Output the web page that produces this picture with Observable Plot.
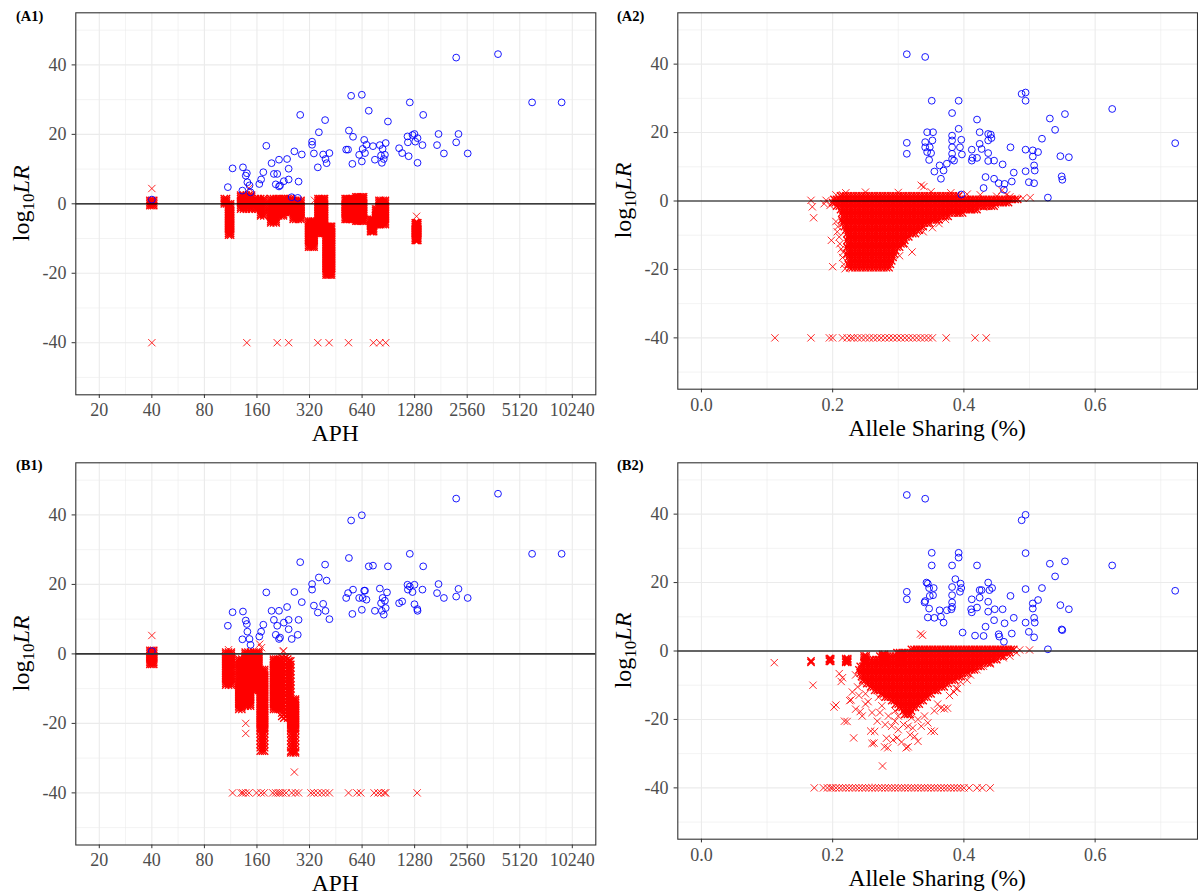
<!DOCTYPE html>
<html><head><meta charset="utf-8">
<script src="https://cdn.jsdelivr.net/npm/d3@7"></script>
<script src="https://cdn.jsdelivr.net/npm/@observablehq/plot@0.6"></script>
<style>
html,body{margin:0;padding:0;background:#fff;}
#wrap{position:relative;width:1198px;height:896px;overflow:hidden;background:#fff;}
</style></head>
<body><div id="wrap"></div>
<script>
// ---------- axes ----------
const aphTicks = [20, 40, 80, 160, 320, 640, 1280, 2560, 5120, 10240];
const aphMinor = [28.28, 56.57, 113.1, 226.3, 452.5, 905.1, 1810, 3620, 7241];
const shareTicks = [0, 0.2, 0.4, 0.6];
const shareMinor = [0.1, 0.3, 0.5, 0.7];
const lrTicks = [-40, -20, 0, 20, 40];
const lrMinor = [-50, -30, -10, 10, 30, 50];
const floorLR = -40;
const panelTags = ["(A1)", "(A2)", "(B1)", "(B2)"];
const xTitles = ["APH", "Allele Sharing (%)"];

// ---------- A1 : APH vs log10 LR ----------
const a1Blue = [[109,4.8],[116,10.2],[133,10.5],[132,3.8],[138,8.1],[140,8.8],[141,6.2],[145,5.3],[147,3.3],[165,5.7],[169,7.0],[174,9.1],[181,16.7],[194,11.7],[200,8.6],[209,8.6],[205,5.6],[214,5.0],[217,5.3],[214,12.7],[228,6.5],[238,12.9],[243,10.1],[243,7.0],[253,1.9],[262,15.1],[274,1.7],[277,6.4],[283,25.6],[289,14.2],[331,17.9],[331,17.0],[339,14.5],[357,10.5],[362,20.6],[393,24.1],[383,14.2],[395,12.9],[401,11.7],[416,14.6],[519,15.6],[532,15.6],[538,21.1],[554,31.1],[563,11.5],[568,19.3],[616,14.1],[638,31.4],[638,12.2],[645,15.8],[658,18.4],[665,14.6],[678,17.0],[699,26.8],[739,16.6],[758,12.7],[809,16.9],[822,13.9],[831,11.8],[839,15.8],[852,12.9],[865,14.1],[874,17.5],[900,23.7],[1043,16.0],[1086,14.6],[1165,19.4],[1171,17.7],[1201,29.2],[1183,13.7],[1245,19.8],[1277,20.1],[1290,17.9],[1330,18.9],[1330,11.8],[1419,16.9],[1433,25.6],[1720,16.9],[1754,20.1],[1883,14.5],[2214,42.1],[2214,17.7],[2282,20.1],[2577,14.5],[3843,43.1],[6025,29.2],[8895,29.2],[40,1.2]];
const a1ColAph = [[39,40,41],[104,107],[110,113],[129,134,139,144,149],[157,163],[168,175],[192,199,206],[213,220,227],[233,241,249],[258,267,276,286],[316,324,332,340],[358,366,374,382,390],[398,405,412,420,428],[512,522,532,543,554,565],[590,602,614,627,640,653],[716,730,745],[765,780,800,820,845,870],[800,820,845,870],[1290,1305,1320,1335]];
const a1ColLR = [
 [1,0.5,0,-0.5],
 [1.5,1,0.5,0],
 [0,-0.5,-1,-1.5,-2,-2.5,-3,-3.5,-4,-4.5,-5,-5.5,-6,-6.5,-7,-7.5,-8,-8.5,-9],
 [2.5,2,1.5,1,0.5,0,-0.5,-1,-1.5],
 [1.5,1,0.5,0,-0.5,-1,-1.5],
 [1.5,1,0.5,0,-0.5,-1,-1.5,-2,-2.5,-3,-3.5],
 [1.5,1,0.5,0,-0.5,-1,-1.5,-2,-2.5,-3,-3.5,-4,-4.5,-5,-5.5],
 [1.5,1,0.5,0,-0.5,-1,-1.5,-2,-2.5,-3,-3.5],
 [1.5,1,0.5,0,-0.5,-1,-1.5,-2,-2.5],
 [1,0.5,0,-0.5,-1,-1.5,-2,-2.5,-3,-3.5,-4,-4.5],
 [-5,-5.5,-6,-6.5,-7,-7.5,-8,-8.5,-9,-9.5,-10,-10.5,-11,-11.5,-12,-12.5],
 [1.5,1,0.5,0,-0.5,-1,-1.5,-2,-2.5,-3,-3.5,-4,-4.5,-5,-5.5,-6,-6.5,-7,-7.5,-8,-8.5],
 [-6.5,-7,-7.5,-8,-8.5,-9,-9.5,-10,-10.5,-11,-11.5,-12,-12.5,-13,-13.5,-14,-14.5,-15,-15.5,-16,-16.5,-17,-17.5,-18,-18.5,-19,-19.5,-20,-20.5],
 [1.5,1,0.5,0,-0.5,-1,-1.5,-2,-2.5,-3,-3.5,-4,-4.5],
 [2,1.5,1,0.5,0,-0.5,-1,-1.5,-2,-2.5,-3,-3.5,-4,-4.5,-5],
 [-4.5,-5,-5.5,-6,-6.5,-7,-7.5,-8],
 [-1.5,-2,-2.5,-3,-3.5,-4,-4.5,-5,-5.5,-6],
 [1,0.5,0,-0.5,-1],
 [-5.5,-6,-6.5,-7,-7.5,-8,-8.5,-9,-9.5,-10,-10.5]
];
const a1RedDots = [[40,4.4],[1313,-3.6],[144,4.5],[342,1.0]];
const a1FloorAph = [40,140,209,243,357,414,535,743,809,874];

// ---------- B1 : APH vs log10 LR ----------
const b1Blue = [[109,8.1],[116,12.0],[133,12.2],[132,4.2],[138,9.6],[140,8.6],[141,6.4],[145,4.3],[147,2.6],[165,5.0],[169,6.4],[174,8.4],[181,17.7],[194,12.4],[200,9.8],[209,8.1],[205,5.5],[214,4.3],[217,4.7],[214,12.4],[228,9.0],[238,13.5],[243,9.8],[243,7.1],[253,4.3],[262,17.8],[274,5.5],[277,9.8],[283,26.4],[289,14.9],[331,20.1],[331,18.5],[339,13.9],[357,11.9],[362,22.0],[393,25.7],[383,14.4],[395,12.4],[401,21.1],[416,10.0],[519,16.1],[532,17.5],[538,27.6],[554,38.4],[563,11.5],[568,18.5],[616,16.1],[638,39.9],[638,12.7],[645,16.1],[658,18.2],[665,18.2],[678,15.6],[699,25.2],[739,25.4],[758,12.4],[809,18.8],[822,14.6],[831,12.4],[839,16.1],[852,11.3],[865,15.3],[874,13.2],[889,17.7],[900,25.2],[1043,14.6],[1086,15.1],[1165,19.9],[1171,18.5],[1201,28.8],[1201,19.4],[1245,17.8],[1277,19.9],[1277,14.3],[1326,12.9],[1330,12.4],[1419,18.5],[1433,25.2],[1720,17.5],[1754,20.1],[1883,16.1],[2214,44.7],[2214,16.5],[2282,18.7],[2577,16.1],[3843,46.1],[6025,28.8],[8895,28.8],[40,0.8]];
const b1ColAph = [[39,40,41],[106,110,114],[126,131],[137,142,147],[154,159,164],[167,172,177],[167,172,177],[199,205,211,217],[222,234],[228,240],[250,258,266],[250,258,266],[244,250]];
const b1ColLR = [
 [1,0.5,0,-0.5,-1,-1.5,-2,-2.5,-3],
 [0.5,0,-0.5,-1,-1.5,-2,-2.5,-3,-3.5,-4,-4.5,-5,-5.5,-6,-6.5,-7,-7.5,-8,-8.5,-9],
 [-1.5,-2,-2.5,-3,-3.5,-4,-4.5,-5,-5.5,-6,-6.5,-7,-7.5,-8,-8.5,-9,-9.5,-10,-10.5,-11,-11.5,-12,-12.5,-13,-13.5,-14,-14.5,-15,-15.5,-16],
 [0.5,0,-0.5,-1,-1.5,-2,-2.5,-3,-3.5,-4,-4.5,-5,-5.5,-6,-6.5,-7,-7.5,-8,-8.5,-9,-9.5,-10,-10.5,-11,-11.5,-12,-12.5,-13,-13.5,-14,-14.5,-15],
 [0.5,0,-0.5,-1,-1.5,-2,-2.5,-3,-3.5,-4,-4.5,-5,-5.5,-6,-6.5,-7,-7.5,-8,-8.5,-9,-9.5,-10,-10.5],
 [-4.5,-5,-5.5,-6,-6.5,-7,-7.5,-8,-8.5,-9,-9.5,-10,-10.5,-11,-11.5,-12,-12.5,-13,-13.5,-14,-14.5,-15,-15.5,-16,-16.5,-17,-17.5,-18,-18.5,-19,-19.5,-20,-20.5,-21,-21.5,-22],
 [-23,-24,-25,-26,-27,-28],
 [-1.5,-2,-2.5,-3,-3.5,-4,-4.5,-5,-5.5,-6,-6.5,-7,-7.5,-8,-8.5,-9,-9.5,-10,-10.5,-11,-11.5,-12,-12.5,-13,-13.5,-14,-14.5,-15,-15.5,-16],
 [-1,-2,-3,-4,-5,-6,-7,-8,-9,-10,-11,-12,-13,-14,-15,-16,-17,-18],
 [-1.5,-2.5,-3.5,-4.5,-5.5,-6.5,-7.5,-8.5,-9.5,-10.5,-11.5,-12.5,-13.5,-14.5,-15.5,-16.5,-17.5,-18.5],
 [-13,-13.5,-14,-14.5,-15,-15.5,-16,-16.5,-17,-17.5,-18,-18.5,-19,-19.5,-20,-20.5,-21,-21.5,-22],
 [-23,-24,-25,-26,-27,-28,-28.5],
 [-2,-3,-4,-5,-6,-7,-8,-9,-10,-11,-12]
];
const b1RedDots = [[40,5.3],[138,-20],[138,-22.9],[262,-34],[226,0.7],[235,-1.9],[166,2.8],[170,1.8],[227,0.9],[210,-1.7],[110,1.2]];
const b1FloorAph = [116,130,133,138,144,159,169,176,197,205,212,218,225,235,253,266,277,326,339,357,376,395,416,535,598,629,750,790,822,860,874,1323];

// ---------- shared grids for the dense clouds (allele sharing, in thousandths) ----------
const shareGridA = [160,164,168,172,176,180,184,188,192,196,200,204,208,212,216,220,224,228,232,236,240,244,248,252,256,260,264,268,272,276,280,284,288,292,296,300,304,308,312,316,320,324,328,332,336,340,344,348,352,356,360,364,368,372,376,380,384,388,392,396,400,404,408,412,416,420,424,428,432,436,440,444,448,452,456,460,464,468,472,476,480,484,488,492,496,500];
const shareGridB = [162,166,170,174,178,182,186,190,194,198,202,206,210,214,218,222,226,230,234,238,242,246,250,254,258,262,266,270,274,278,282,286,290,294,298,302,306,310,314,318,322,326,330,334,338,342,346,350,354,358,362,366,370,374,378,382,386,390,394,398,402,406,410,414,418,422,426,430,434,438,442,446,450,454,458,462,466,470,474,478,482,486,490,494,498];

// ---------- A2 : allele sharing vs log10 LR ----------
const a2Blue = [[0.313,42.9],[0.341,42.1],[0.351,29.3],[0.392,29.3],[0.382,25.7],[0.420,23.8],[0.488,31.3],[0.494,31.7],[0.494,29.3],[0.531,24.1],[0.554,25.4],[0.626,26.9],[0.722,16.9],[0.313,17.0],[0.313,13.8],[0.344,20.1],[0.353,20.1],[0.341,15.7],[0.348,15.7],[0.344,14.3],[0.352,17.7],[0.347,12.0],[0.350,14.0],[0.355,8.6],[0.363,10.4],[0.365,6.5],[0.369,8.9],[0.374,10.9],[0.382,19.1],[0.382,17.7],[0.382,15.7],[0.382,13.8],[0.382,12.3],[0.385,11.8],[0.392,21.1],[0.396,17.9],[0.394,15.7],[0.397,13.6],[0.412,15.0],[0.413,12.6],[0.412,11.8],[0.420,12.6],[0.424,20.1],[0.424,16.7],[0.427,15.2],[0.437,19.6],[0.441,19.4],[0.442,18.4],[0.437,17.7],[0.437,14.0],[0.437,11.7],[0.446,11.8],[0.459,10.7],[0.471,15.7],[0.433,7.0],[0.446,6.5],[0.430,3.8],[0.453,5.2],[0.462,5.0],[0.461,3.3],[0.473,5.7],[0.476,8.3],[0.494,8.7],[0.494,15.0],[0.499,5.5],[0.507,5.2],[0.507,10.4],[0.508,8.9],[0.505,14.8],[0.505,13.0],[0.513,14.3],[0.519,18.2],[0.539,20.8],[0.547,13.1],[0.560,12.8],[0.549,7.2],[0.550,6.2],[0.528,1.0],[0.396,1.9],[0.341,17.2]];
const a2RowLR = [1.5,0.5,-0.5,-1.5,-2.5,-3.5,-4.5,-5.5,-6.5,-7.5,-8.5,-9.5,-10.5,-11.5,-12.5,-13.5,-14.5,-15.5,-16.5,-17.5,-18.5,-19.5];
const a2RowFrom = [212,200,200,205,209,211,213,214,215,217,219,221,222,222,222,222,222,222,222,223,224,226];
const a2RowTo = [395,482,470,448,420,398,378,362,350,341,333,326,319,313,308,303,299,296,293,291,289,286];
const a2RedDots = [[0.167,0.2],[0.169,-1.7],[0.171,-4.9],[0.187,-0.8],[0.19,0.2],[0.196,-1.3],[0.198,-11.5],[0.2,-19.2],[0.205,-6],[0.207,-9],[0.208,-7.5],[0.21,-10.5],[0.211,-12.5],[0.213,-14],[0.215,-16.5],[0.216,-15],[0.217,-18.5],[0.219,-19.8],[0.321,-14.9],[0.362,-6.6],[0.335,4.6],[0.339,4.2],[0.501,1.0],[0.472,0.7],[0.458,3.1],[0.465,1.8],[0.49,0.8],[0.302,-16],[0.31,-12.5],[0.338,-9],[0.352,-7.8],[0.372,-5.4],[0.392,-3.6],[0.41,-2.6],[0.43,-1.8],[0.448,-1.0],[0.205,1.8],[0.22,2.4],[0.25,2.6],[0.3,2.5],[0.35,2.7],[0.38,2.4],[0.405,2.0],[0.425,1.8],[0.45,1.4],[0.47,1.2]];
const a2FloorShare = [0.112,0.167,0.195,0.2,0.215,0.222,0.228,0.232,0.238,0.244,0.25,0.256,0.262,0.268,0.274,0.28,0.286,0.292,0.298,0.304,0.31,0.316,0.322,0.328,0.334,0.34,0.346,0.352,0.373,0.417,0.434];

// ---------- B2 : allele sharing vs log10 LR ----------
const b2Blue = [[0.313,45.6],[0.341,44.5],[0.488,38.2],[0.494,39.8],[0.351,28.7],[0.392,28.7],[0.392,27.3],[0.494,28.6],[0.351,25.0],[0.382,25.0],[0.420,25.0],[0.531,25.5],[0.554,26.2],[0.626,25.0],[0.539,21.8],[0.722,17.6],[0.313,17.3],[0.313,15.1],[0.343,20.0],[0.345,19.7],[0.347,18.4],[0.354,18.4],[0.353,16.3],[0.348,16.1],[0.341,14.6],[0.340,14.2],[0.347,12.4],[0.345,9.8],[0.355,9.7],[0.363,11.9],[0.365,10.0],[0.369,8.3],[0.374,11.9],[0.382,18.7],[0.382,16.3],[0.382,14.2],[0.382,12.9],[0.381,12.2],[0.387,21.0],[0.395,19.7],[0.396,18.4],[0.394,17.3],[0.398,5.4],[0.412,15.1],[0.411,12.2],[0.412,11.3],[0.420,12.7],[0.417,4.5],[0.424,17.8],[0.427,17.8],[0.424,15.6],[0.437,20.0],[0.439,17.8],[0.443,18.4],[0.437,14.4],[0.437,11.5],[0.447,12.2],[0.459,12.2],[0.446,9.0],[0.433,7.1],[0.430,4.4],[0.453,4.9],[0.454,4.2],[0.462,8.1],[0.461,2.7],[0.471,16.1],[0.473,5.1],[0.476,9.7],[0.494,8.3],[0.494,18.1],[0.499,5.6],[0.507,4.0],[0.507,9.7],[0.508,8.3],[0.505,13.9],[0.505,12.4],[0.513,14.9],[0.519,18.4],[0.547,13.4],[0.560,12.2],[0.549,6.3],[0.550,6.1],[0.528,0.5]];
const b2RowLR = [0.5,-0.5,-1.5,-2.5,-3.5,-4.5,-5.5,-6.5,-7.5,-8.5,-9.5,-10.5,-11.5,-12.5,-13.5,-14.5,-15.5,-16.5,-17.5,-18.5];
const b2RowFrom = [320,295,272,258,248,242,240,240,242,246,250,256,262,272,280,288,294,300,305,309];
const b2RowTo = [478,472,462,450,440,428,418,408,398,388,378,370,362,352,345,338,333,328,323,319];
const b2ColShare = [[0.167],[0.195,0.197],[0.220,0.223],[0.248,0.251],[0.276,0.279],[0.303,0.306]];
const b2ColLR = [[-2.9,-3.3],[-2.2,-2.6,-3],[-2.2,-2.6,-3,-3.3],[-1.4,-1.9,-2.4,-2.9,-3.3],[-1,-1.5,-2,-2.5,-3,-3.4],[-0.8,-1.3,-1.8,-2.3,-2.8,-3.3]];
const b2RedDots = [[0.111,-3.4],[0.170,-10.0],[0.202,-16.4],[0.205,-15.8],[0.21,-6.6],[0.213,-8.9],[0.215,-7.8],[0.218,-20.5],[0.222,-20.6],[0.226,-14.5],[0.228,-14.3],[0.23,-12],[0.232,-25.4],[0.235,-17],[0.238,-10.5],[0.242,-17.7],[0.245,-19],[0.25,-15.5],[0.254,-14.8],[0.258,-23.4],[0.26,-27],[0.263,-26.9],[0.264,-23.5],[0.268,-20.5],[0.272,-18],[0.276,-33.6],[0.279,-28],[0.282,-25.5],[0.284,-28.3],[0.29,-22],[0.292,-26],[0.298,-25.4],[0.3,-23],[0.305,-26.6],[0.308,-21.5],[0.312,-28.3],[0.315,-28],[0.318,-24.5],[0.322,-22.5],[0.325,-25],[0.33,-26.4],[0.33,-20],[0.335,-22],[0.34,-19],[0.345,-21],[0.35,-23.4],[0.355,-23.5],[0.355,-17.5],[0.36,-15.5],[0.365,-16.7],[0.37,-16.9],[0.375,-16.7],[0.378,-13],[0.385,-12],[0.388,-10.9],[0.39,-11],[0.395,-9],[0.405,-8.5],[0.41,-7],[0.42,-5.5],[0.43,-4.5],[0.44,-3.8],[0.45,-2.5],[0.46,-2],[0.47,-1.5],[0.48,-0.5],[0.485,0.3],[0.5,0.3],[0.334,5],[0.337,4.6],[0.27,-13.5],[0.275,-16],[0.285,-19],[0.295,-20.5],[0.3,-19],[0.31,-18.5],[0.32,-19.5],[0.315,-22],[0.295,-17.5],[0.28,-21.5],[0.26,-18],[0.25,-12.5],[0.245,-9.5],[0.235,-7],[0.24,-13]];
const b2FloorShare = [0.172,0.186,0.192,0.197,0.2,0.205,0.21,0.215,0.22,0.225,0.23,0.235,0.24,0.245,0.25,0.255,0.26,0.265,0.27,0.275,0.28,0.285,0.29,0.295,0.3,0.305,0.31,0.315,0.32,0.325,0.33,0.335,0.34,0.345,0.35,0.355,0.36,0.365,0.37,0.375,0.38,0.385,0.39,0.395,0.4,0.408,0.42,0.428,0.44];

// ---------- table builders ----------
const pairs = (arr) => arr.map(([x, y]) => ({x, y}));
const columns = (xsList, ysList) => xsList.flatMap((xs, i) => xs.flatMap(x => ysList[i].map(y => ({x, y}))));
const rows = (lr, from, to) => lr.flatMap((y, i) => (i % 2 ? shareGridB : shareGridA)
  .filter(v => v >= from[i] && v <= to[i]).map(v => ({x: v / 1000, y})));
const floorPts = (xs) => xs.map(x => ({x, y: floorLR}));

const a1Core = columns(a1ColAph, a1ColLR);
const a1Sparse = [...pairs(a1RedDots), ...floorPts(a1FloorAph)];
const b1Core = columns(b1ColAph, b1ColLR);
const b1Sparse = [...pairs(b1RedDots), ...floorPts(b1FloorAph)];
const a2Core = rows(a2RowLR, a2RowFrom, a2RowTo);
const a2Sparse = [...pairs(a2RedDots), ...floorPts(a2FloorShare)];
const b2Core = [...rows(b2RowLR, b2RowFrom, b2RowTo), ...columns(b2ColShare, b2ColLR)];
const b2Sparse = [...pairs(b2RedDots), ...floorPts(b2FloorShare)];

// ---------- drawing ----------
const wrap = document.getElementById("wrap");
const FONT = "'Liberation Serif','Times New Roman',serif";
const aphScale = {type: "log", base: 2, domain: [20 * 2 ** -0.447, 10240 * 2 ** 0.447]};
const shareScale = {type: "linear", domain: [-0.036, 0.756]};

function panel(o) {
  const svg = Plot.plot({
    width: 599, height: 448,
    marginLeft: o.mL, marginRight: o.mR, marginTop: o.mT, marginBottom: o.mB,
    style: {fontFamily: FONT, background: "transparent", overflow: "visible"},
    x: Object.assign({label: null}, o.x),
    y: {domain: [-55, 55], label: null},
    marks: [
      Plot.ruleX(o.minor, {stroke: "#ebebeb", strokeWidth: 0.6}),
      Plot.ruleY(lrMinor, {stroke: "#ebebeb", strokeWidth: 0.6}),
      Plot.ruleX(o.major, {stroke: "#ebebeb", strokeWidth: 1.1}),
      Plot.ruleY(lrTicks, {stroke: "#ebebeb", strokeWidth: 1.1}),
      Plot.dot(o.core, {x: "x", y: "y", symbol: "times", r: 3.4, stroke: "#ff0000", strokeWidth: 1.35}),
      Plot.dot(o.sparse, {x: "x", y: "y", symbol: "times", r: 3.4, stroke: "#ff0000", strokeWidth: 0.85}),
      Plot.dot(o.blue, {x: "x", y: "y", symbol: "circle", r: 3.4, stroke: "#0000ff", fill: "none", strokeWidth: 0.9}),
      Plot.ruleY([0], {stroke: o.zeroColor, strokeWidth: o.zeroWidth}),
      Plot.axisX({ticks: o.major, tickFormat: o.fmt, tickSize: 3.7, tickPadding: 5, fontSize: 18, fill: "#4d4d4d", stroke: "#333333", label: null}),
      Plot.axisY({ticks: lrTicks, tickFormat: d => String(d), tickSize: 3.7, tickPadding: 5.5, fontSize: 18, fill: "#4d4d4d", stroke: "#333333", label: null}),
      Plot.frame({stroke: "#333333", strokeWidth: 1.1})
    ]
  });
  svg.style.position = "absolute";
  svg.style.left = o.left + "px";
  svg.style.top = o.top + "px";
  wrap.appendChild(svg);
}

panel({left: 0, top: 0, mL: 75.3, mR: 3.7, mT: 12.3, mB: 53.7, x: aphScale, major: aphTicks, minor: aphMinor, fmt: d => String(d), core: a1Core, sparse: a1Sparse, blue: pairs(a1Blue), zeroColor: "#000", zeroWidth: 1.2});
panel({left: 599, top: 0, mL: 78.3, mR: 1, mT: 12.3, mB: 59.3, x: shareScale, major: shareTicks, minor: shareMinor, fmt: d => d.toFixed(1), core: a2Core, sparse: a2Sparse, blue: pairs(a2Blue), zeroColor: "#000", zeroWidth: 1.2});
panel({left: 0, top: 448, mL: 75.3, mR: 3.7, mT: 14.3, mB: 51.5, x: aphScale, major: aphTicks, minor: aphMinor, fmt: d => String(d), core: b1Core, sparse: b1Sparse, blue: pairs(b1Blue), zeroColor: "#333", zeroWidth: 1.7});
panel({left: 599, top: 448, mL: 78.3, mR: 1, mT: 14.3, mB: 57.3, x: shareScale, major: shareTicks, minor: shareMinor, fmt: d => d.toFixed(1), core: b2Core, sparse: b2Sparse, blue: pairs(b2Blue), zeroColor: "#333", zeroWidth: 1.7});

// ---------- titles ----------
const tagPos = [[16, 20.5], [617, 20.5], [16, 469.5], [617, 469.5]];
const yTitlePos = [[28.5, 203.3], [630.5, 200.5], [28.5, 653.4], [630.5, 650.5]];
const xTitlePos = [[335.3, 440.5, 0], [937.2, 436, 1], [335.3, 890.7, 0], [937.2, 886, 1]];
let ov = `<svg width="1198" height="896" xmlns="http://www.w3.org/2000/svg" style="position:absolute;left:0;top:0;pointer-events:none" font-family="${FONT}">`;
panelTags.forEach((t, i) => {
  ov += `<text x="${tagPos[i][0]}" y="${tagPos[i][1]}" font-size="14.5" font-weight="bold" fill="#000">${t}</text>`;
});
yTitlePos.forEach(([x, y]) => {
  ov += `<text transform="translate(${x},${y}) rotate(-90)" text-anchor="middle" font-size="24" fill="#000">log<tspan font-size="17" dy="5">10</tspan><tspan font-style="italic" dy="-5">LR</tspan></text>`;
});
xTitlePos.forEach(([x, y, k]) => {
  ov += `<text x="${x}" y="${y}" text-anchor="middle" font-size="23.5" fill="#000">${xTitles[k]}</text>`;
});
ov += `</svg>`;
wrap.insertAdjacentHTML("beforeend", ov);
</script>
</body></html>
